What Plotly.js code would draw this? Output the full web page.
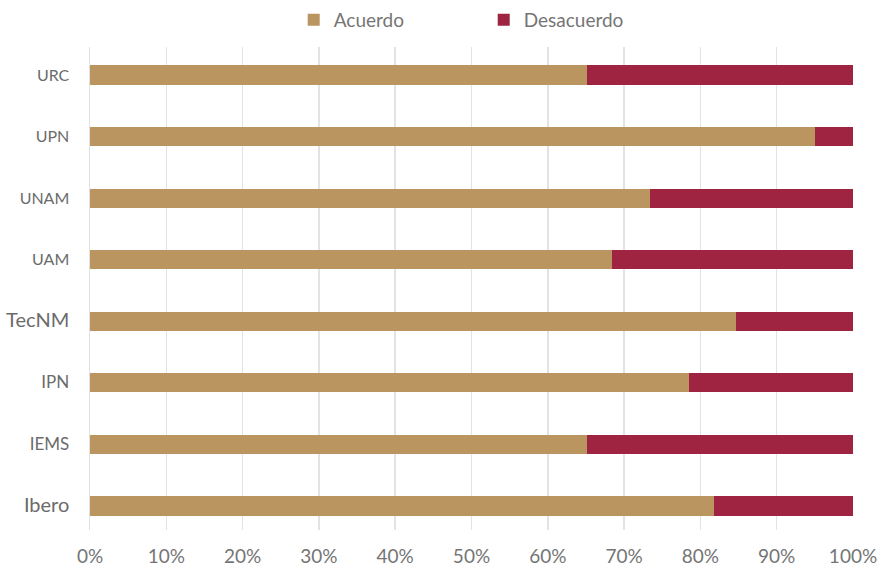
<!DOCTYPE html>
<html>
<head>
<meta charset="utf-8">
<script src="https://cdn.plot.ly/plotly-3.0.1.min.js"></script>
<style>html,body{margin:0;padding:0;background:#fff;}#chart{width:882px;height:569px;}</style>
</head>
<body>
<div id="chart"></div>
<script>
// Categories from bottom to top
const categories = ["Ibero", "IEMS", "IPN", "TecNM", "UAM", "UNAM", "UPN", "URC"];
const acuerdo    = [81.8, 65.2, 78.5, 84.6, 68.4, 73.4, 95.0, 65.1];
const desacuerdo = acuerdo.map(v => +(100 - v).toFixed(1));
const xTickVals  = [0, 10, 20, 30, 40, 50, 60, 70, 80, 90, 100];
const xTickText  = ["0%", "10%", "20%", "30%", "40%", "50%", "60%", "70%", "80%", "90%", "100%"];
const labelSizes = {"Ibero": 20, "IEMS": 17, "IPN": 17, "TecNM": 20, "UAM": 16, "UNAM": 16, "UPN": 16, "URC": 16};

const font = "Lato, 'Source Sans Pro', 'Noto Sans', sans-serif";

const traces = [
  {type: "bar", orientation: "h", name: "Acuerdo", y: categories, x: acuerdo,
   marker: {color: "#BA955F"}, width: 0.31, hoverinfo: "x+y"},
  {type: "bar", orientation: "h", name: "Desacuerdo", y: categories, x: desacuerdo,
   marker: {color: "#9E2441"}, width: 0.31, hoverinfo: "x+y"}
];

const layout = {
  width: 882, height: 569,
  barmode: "stack",
  paper_bgcolor: "#fff", plot_bgcolor: "#fff",
  font: {family: font, color: "#757575", size: 18},
  margin: {l: 90, r: 29, t: 47, b: 39},
  showlegend: true,
  legend: {orientation: "h", x: 0.516, xanchor: "center", y: 0.965, yanchor: "middle",
           yref: "container", font: {size: 19, color: "#757575"},
           itemwidth: 20, entrywidth: 145, traceorder: "normal"},
  xaxis: {range: [0, 100], tickvals: xTickVals, ticktext: xTickText,
          showgrid: true, gridcolor: "#e3e3e3", gridwidth: 1.5,
          zeroline: false, showline: false, ticks: "outside", ticklen: 9, tickcolor: "rgba(0,0,0,0)",
          tickfont: {size: 19, color: "#757575"}, fixedrange: true},
  yaxis: {type: "category", range: [-0.39, 7.455],
          tickvals: categories,
          ticktext: categories.map(c => `<span style="font-size:${labelSizes[c]}px">${c}</span>`),
          showgrid: false, zeroline: false, showline: true, linecolor: "#e0e0e0", linewidth: 1.5,
          ticks: "outside", ticklen: 16, tickcolor: "rgba(0,0,0,0)",
          tickfont: {size: 16, color: "#6b6b6b"}, fixedrange: true},
  bargap: 0.69
};

Plotly.newPlot("chart", traces, layout, {displayModeBar: false, staticPlot: true});
</script>
</body>
</html>
